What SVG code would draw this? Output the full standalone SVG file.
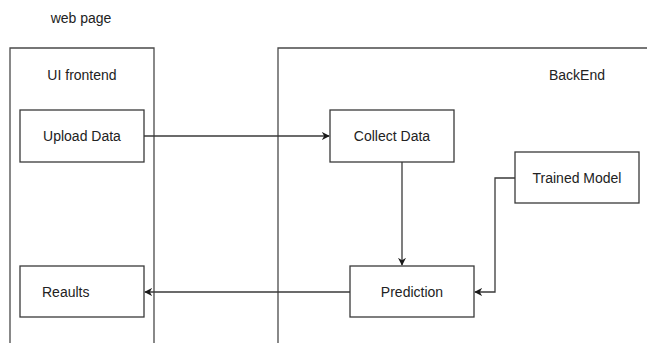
<svg xmlns="http://www.w3.org/2000/svg" width="647" height="343" viewBox="0 0 647 343">
  <style>
    .box { fill: #ffffff; stroke: #3a3a3a; stroke-width: 1.3; }
    .lane { fill: none; stroke: #4a4a4a; stroke-width: 1.3; }
    .edge { fill: none; stroke: #3a3a3a; stroke-width: 1.3; }
    text { font-family: "Liberation Sans", Arial, sans-serif; font-size: 14px; fill: #222222; }
  </style>
  <defs>
    <marker id="arrow" viewBox="0 0 10 10" refX="9" refY="5" markerWidth="8" markerHeight="8" markerUnits="userSpaceOnUse" orient="auto">
      <path d="M0,0 L10,5 L0,10 L3,5 Z" fill="#1a1a1a"/>
    </marker>
  </defs>

  <rect width="647" height="343" fill="#ffffff"/>

  <text x="81" y="23" text-anchor="middle">web page</text>

  <g id="ui-frontend">
    <path class="lane" d="M10,343 V48 H154 V343"/>
    <text x="82" y="80" text-anchor="middle">UI frontend</text>
  </g>

  <g id="backend">
    <path class="lane" d="M278,343 V48 H650"/>
    <text x="577" y="80" text-anchor="middle">BackEnd</text>
  </g>

  <g id="upload-data">
    <rect class="box" x="20" y="110" width="124" height="52"/>
    <text x="82" y="141" text-anchor="middle">Upload Data</text>
  </g>

  <g id="results">
    <rect class="box" x="20" y="266" width="124" height="51"/>
    <text x="42" y="297">Reaults</text>
  </g>

  <g id="collect-data">
    <rect class="box" x="330" y="110" width="124" height="52"/>
    <text x="392" y="141" text-anchor="middle">Collect Data</text>
  </g>

  <g id="trained-model">
    <rect class="box" x="515" y="152" width="124" height="51"/>
    <text x="577" y="183" text-anchor="middle">Trained Model</text>
  </g>

  <g id="prediction">
    <rect class="box" x="350" y="266" width="124" height="51"/>
    <text x="412" y="297" text-anchor="middle">Prediction</text>
  </g>

  <g id="connectors">
    <path class="edge" d="M144,136 H329" marker-end="url(#arrow)"/>
    <path class="edge" d="M402,162 V265" marker-end="url(#arrow)"/>
    <path class="edge" d="M515,178 H495 V292 H475" marker-end="url(#arrow)"/>
    <path class="edge" d="M350,292 H145" marker-end="url(#arrow)"/>
  </g>
</svg>
